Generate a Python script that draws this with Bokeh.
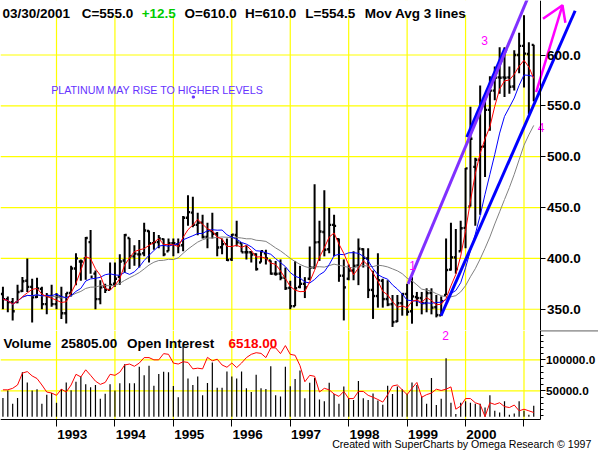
import numpy as np
import pandas as pd
from bokeh.plotting import figure
from bokeh.models import Range1d, LinearAxis, FixedTicker, PrintfTickFormatter, ColumnDataSource
from bokeh.layouts import column
from bokeh.transform import dodge
from bokeh.core.properties import value
from bokeh.embed import file_html
from bokeh.resources import INLINE

# ---------------- data (monthly platinum futures, Feb 1992 .. Mar 2001) ----------------
months = pd.period_range("1992-02", "2001-03", freq="M")

opens = [365, 360, 357, 357, 368, 378, 372, 362, 370, 355, 363, 355, 362, 346, 366, 390, 397, 400, 416, 385,
         360, 372, 369, 375, 382, 398, 420, 402, 404, 405, 427, 415, 416, 419, 407, 415, 414, 413, 440, 445,
         433, 435, 421, 427, 424, 411, 414, 399, 423, 415, 406, 406, 404, 396, 405, 398, 385, 385, 381, 371,
         353, 372, 375, 380, 391, 416, 426, 409, 433, 419, 383, 380, 388, 393, 409, 400, 369, 363, 378, 360,
         355, 338, 356, 365, 348, 362, 361, 356, 366, 352, 344, 364, 389, 401, 407, 430, 451, 490, 497, 510,
         546, 565, 578, 578, 578, 569, 600, 609, 601, 610]
highs = [372, 362.6, 361, 374, 381.6, 400, 380, 381, 372, 366, 374, 366, 372, 366, 392.7, 405, 399, 421, 428, 388,
         378.5, 375, 396, 396, 404, 424, 420, 413, 418, 435, 427.5, 426, 423, 419.6, 419.6, 419.6, 419.6, 441.7, 462, 460.7,
         445, 443, 435, 445, 426, 419.6, 419.6, 424, 437, 415, 413, 407, 405, 407.5, 408.5, 398, 397.5, 399, 391, 378,
         397.5, 392.7, 381.6, 411.7, 473, 437, 467, 449.6, 443, 419.6, 399, 394, 407, 419.6, 410, 410, 388, 405, 380, 378.5,
         364, 364, 365.8, 375, 381.6, 367, 367, 370.6, 370.6, 364, 362.6, 419.6, 435, 429, 437, 489, 549, 499, 570, 560,
         579, 588.8, 607.7, 607.7, 588.8, 604.6, 622, 639, 612.5, 610]
lows = [350, 347, 339, 356, 367, 367, 337, 361, 350, 345, 352.5, 350, 340.5, 336, 362.6, 373.7, 378, 379, 385, 350,
        355, 366, 369, 372, 374, 386, 389.5, 392.7, 391, 402, 396, 408.5, 410, 402, 407, 402, 405, 407, 432, 430.6,
        422.7, 419.6, 410, 419.6, 402, 404, 397.5, 397.5, 411.7, 406, 399, 396, 388, 396, 394, 384, 383, 378.5, 369, 350,
        353, 370.6, 361, 378.5, 390, 397.5, 402, 405, 402, 377, 339, 378.5, 378.5, 373.7, 391, 361, 340.5, 351.6, 351.6, 353,
        332.6, 337.4, 343.7, 343.7, 335.8, 353, 345, 347, 345, 342, 343.7, 364, 388, 385, 407, 410, 451, 432, 443, 480,
        525.5, 555.6, 562, 558.7, 562, 565, 582, 568, 542, 554.5]
closes = [360, 357, 348, 367, 377.5, 372, 361.7, 370.5, 355, 363, 355, 362.6, 346, 366, 390, 400, 397, 420, 382, 360,
          371.5, 369, 374, 380, 397, 423, 402, 404.7, 404, 427.5, 415, 416, 419.6, 404, 415, 415, 412.6, 440, 445.5, 433,
          435, 421, 427.5, 424.3, 410.7, 414, 398.4, 423.4, 415.8, 406, 406, 403.8, 389.5, 407, 400, 385, 384.8, 381, 370.6, 353,
          370.6, 375, 371.5, 391, 415.8, 426.5, 408.5, 433, 432, 383, 371.5, 388, 392.7, 409.5, 400.6, 369, 363, 378.5, 360, 354.7,
          337.4, 356, 365, 347.5, 362.6, 361, 356, 365.8, 351.6, 344.3, 358, 388.6, 401, 389.5, 429.7, 488.5, 517.6, 497, 509.7, 546,
          565, 577.7, 577.7, 577.7, 568.8, 600, 609, 601.4, 542.5, 555]
volume = [38500, 50500, 29000, 38500, 80000, 63500, 50500, 52600, 29000, 43800, 46400, 30700, 53000, 63500, 51000, 64600, 73400, 60400, 55700, 59400,
          37000, 45300, 60400, 50500, 62000, 93000, 62000, 62000, 89000, 75000, 90600, 58300, 77000, 80700, 80000, 57800, 39600, 123000, 70000, 59400,
          73000, 42700, 62500, 95800, 55000, 55000, 81000, 73000, 70000, 81000, 54000, 48000, 76000, 54000, 53000, 89600, 42700, 41000, 89000, 57300,
          69000, 82800, 38000, 63000, 70800, 36000, 33300, 63000, 44800, 29000, 56800, 38500, 35000, 66000, 38000, 35000, 45800, 34400, 27600, 58300,
          44800, 56800, 52600, 45300, 63500, 59400, 41000, 29000, 70800, 27000, 37000, 102600, 30700, 12500, 30700, 33300, 30700, 29000, 29000, 23000,
          42700, 17700, 15000, 33300, 11500, 13500, 33300, 17700, 11500, 25805]
open_interest = [51600, 51600, 54000, 59400, 78600, 81000, 74000, 69800, 59400, 48000, 46400, 42700, 52600, 48000, 59400, 76600, 72400, 83900, 75000, 65600,
                 60400, 63500, 76600, 75000, 80000, 91700, 93200, 89600, 94800, 103600, 103600, 100000, 100000, 110000, 108900, 94800, 93200, 96900, 95800, 85400,
                 86500, 85400, 104000, 98400, 101000, 91700, 88000, 94800, 87500, 94800, 103600, 108900, 111500, 110400, 103600, 119300, 119300, 110000, 123000, 108900,
                 107300, 90600, 64600, 75000, 73400, 48000, 54000, 51600, 44800, 41000, 49000, 37500, 37500, 49000, 49000, 42700, 39600, 36000, 31800, 43800,
                 57800, 59400, 51600, 43800, 54000, 63500, 39600, 43800, 46400, 52600, 50500, 52600, 56300, 20300, 25500, 37500, 37500, 30700, 28000, 8300,
                 30700, 28000, 30700, 24500, 23000, 27000, 17700, 20300, 17700, 15000]
ma_lengths = [4, 9, 18]
price_ticks = [350, 400, 450, 500, 550, 600]
volume_ticks = [50000, 100000]
year_labels = ["1993", "1994", "1995", "1996", "1997", "1998", "1999", "2000"]
last_date = "03/30/2001"
last_open_interest = 6518.00

# ---------------- layout constants ----------------
X_LO, X_HI = -0.5, 122.3          # frame spans the whole width
AXIS_X = 110.3                    # where the right axis sits
P_LO, P_HI = 329.1, 653.6
BAND_BOTTOM = 639.4
V_LO, V_HI = -47970, 147340
V_AXIS = 4375
VOL_BASE = 8000
YELLOW = "#FFFF00"
MAGENTA = "#FF00FF"
FONT = value("Liberation Sans")

x = np.arange(len(months))
year_starts = [int(i) for i, m in enumerate(months) if m.month == 1]
cs = pd.Series(closes, dtype=float)
mas = {n: cs.rolling(n, min_periods=1).mean().to_numpy() for n in ma_lengths}

src = ColumnDataSource(dict(x=x, open=opens, high=highs, low=lows, close=closes,
                            ma_fast=mas[ma_lengths[0]], ma_mid=mas[ma_lengths[1]], ma_slow=mas[ma_lengths[2]],
                            volume=volume, oi=open_interest))


def make_fig(h, x_range, y_range):
    return figure(width=598, height=h, x_range=x_range, y_range=y_range,
                  x_axis_type=None, y_axis_type=None, toolbar_location=None,
                  output_backend="svg", min_border=0, outline_line_color=None,
                  background_fill_color="white", border_fill_color="white")


# ---------------- price panel ----------------
p = make_fig(330, Range1d(X_LO, X_HI), Range1d(P_LO, P_HI))
p.segment(x0=X_LO, x1=AXIS_X, y0=price_ticks, y1=price_ticks, line_color=YELLOW, line_width=1.2)
p.segment(x0=year_starts, x1=year_starts, y0=P_LO, y1=P_HI, line_color=YELLOW, line_width=1.2)
p.quad(left=X_LO, right=AXIS_X, bottom=BAND_BOTTOM, top=P_HI + 5, fill_color="white", line_color=None)

p.segment(x0="x", x1="x", y0="low", y1="high", source=src, line_color="black", line_width=2)
p.segment(x0=dodge("x", -0.42), x1="x", y0="open", y1="open", source=src, line_color="black", line_width=2.4)
p.segment(x0="x", x1=dodge("x", 0.42), y0="close", y1="close", source=src, line_color="black", line_width=2.4)

p.line("x", "ma_slow", source=src, line_color="#808080", line_width=1)
p.line("x", "ma_mid", source=src, line_color="#0000FF", line_width=1)
p.line("x", "ma_fast", source=src, line_color="#FF0000", line_width=1)

# hand-drawn trend lines (annotation, in data units)
p.line([95.4, 103.2], [519, 606], line_color="#0000FF", line_width=4.5)
p.line([83.2, 109.0], [375, 670], line_color="#8030FF", line_width=3)
p.line([89.96, 117.5], [343.6, 643.5], line_color="#0000FF", line_width=3)
p.multi_line(xs=[[109.5, 114.9], [110.9, 114.9, 115.5]], ys=[[563.5, 648.9], [635.6, 648.9, 631.8]],
             line_color=MAGENTA, line_width=2.5)
p.text(x=[84.1, 98.9, 110.5], y=[392.7, 613.8, 528.4], text=["1", "3", "4"], text_color=MAGENTA,
       text_font=FONT, text_font_size="12px", text_align="center", text_baseline="middle")

p.text(x=[9.9], y=[565.4], text=["PLATINUM MAY RISE TO HIGHER LEVELS"], text_color="#6633FF",
       text_font=FONT, text_font_size="10.7px", text_baseline="alphabetic")
p.scatter([39.1], [558.7], marker="square", size=2, color="#6633FF")

chg = closes[-1] - closes[-2]
hdr_text = [last_date, f"C={closes[-1]:.1f}", f"{chg:+.1f}", f"O={opens[-1]:.1f}",
            f"H={highs[-1]:.1f}", f"L={lows[-1]:.1f}", "Mov Avg 3 lines"]
hdr_x = [-0.1, 16.18, 28.5, 37.3, 49.7, 62.1, 74.3]
hdr_col = ["black", "black", "#00CC00", "black", "black", "black", "black"]
p.text(x=hdr_x, y=[641] * len(hdr_x), text=hdr_text, text_color=hdr_col, text_font=FONT,
       text_font_size="13.5px", text_font_style="bold", text_baseline="alphabetic")

pax = LinearAxis(fixed_location=AXIS_X, ticker=FixedTicker(ticks=price_ticks),
                 formatter=PrintfTickFormatter(format="%.1f"))
pax.major_tick_out = 5
pax.major_tick_in = 0
pax.minor_tick_out = 0
pax.major_label_standoff = 2
pax.major_label_text_font = "Liberation Sans"
pax.major_label_text_font_size = "13.5px"
pax.major_label_text_font_style = "bold"
pax.major_label_text_color = "black"
p.add_layout(pax, "right")

# ---------------- volume panel ----------------
pv = make_fig(121, p.x_range, Range1d(V_LO, V_HI))
pv.segment(x0=X_LO, x1=AXIS_X, y0=volume_ticks, y1=volume_ticks, line_color=YELLOW, line_width=1.2)
pv.segment(x0=year_starts, x1=year_starts, y0=V_AXIS, y1=V_HI, line_color=YELLOW, line_width=1.2)
pv.segment(x0="x", x1="x", y0=VOL_BASE, y1="volume", source=src, line_color="black", line_width=1.2)
pv.line("x", "oi", source=src, line_color="#FF0000", line_width=1)
pv.segment(x0=AXIS_X, x1=X_HI, y0=V_HI - 450, y1=V_HI - 450, line_color="black", line_width=1)

pv.text(x=[0.1, 11.9, 25.5, 46.3], y=[127000] * 4,
        text=["Volume", f"{volume[-1]:.2f}", "Open Interest", f"{last_open_interest:.2f}"],
        text_color=["black", "black", "black", "#FF0000"], text_font=FONT, text_font_size="13.5px",
        text_font_style="bold", text_baseline="alphabetic")
pv.text(x=[90.9], y=[139500], text=["2"], text_color=MAGENTA, text_font=FONT, text_font_size="12px",
        text_align="center", text_baseline="middle")
pv.text(x=[67.6], y=[-36000], text=["Created with SuperCharts by Omega Research \u00a9 1997"],
        text_color="black", text_font=FONT, text_font_size="10.6px", text_baseline="alphabetic")

vax = LinearAxis(fixed_location=AXIS_X, bounds=(V_AXIS, V_HI),
                 ticker=FixedTicker(ticks=volume_ticks, minor_ticks=list(range(10000, 150000, 10000))),
                 formatter=PrintfTickFormatter(format="%.1f"))
vax.major_tick_out = 5
vax.major_tick_in = 0
vax.minor_tick_out = 3
vax.minor_tick_in = 0
vax.major_label_standoff = 1
vax.major_label_text_font = "Liberation Sans"
vax.major_label_text_font_size = "11.8px"
vax.major_label_text_font_style = "bold"
vax.major_label_text_color = "black"
pv.add_layout(vax, "right")

label_ticks = [year_starts[k] + 3.25 for k in range(len(year_labels))]
xax = LinearAxis(fixed_location=V_AXIS, bounds=(X_LO, AXIS_X),
                 ticker=FixedTicker(ticks=label_ticks, minor_ticks=year_starts),
                 major_label_overrides={t: lab for t, lab in zip(label_ticks, year_labels)})
xax.major_tick_out = 0
xax.major_tick_in = 0
xax.minor_tick_out = 7
xax.minor_tick_in = 0
xax.major_label_standoff = 4
xax.major_label_text_font = "Liberation Sans"
xax.major_label_text_font_size = "13.5px"
xax.major_label_text_font_style = "bold"
xax.major_label_text_color = "black"
pv.add_layout(xax, "below")

layout = column(p, pv, spacing=0)
open("out.html", "w").write(file_html(layout, INLINE))
